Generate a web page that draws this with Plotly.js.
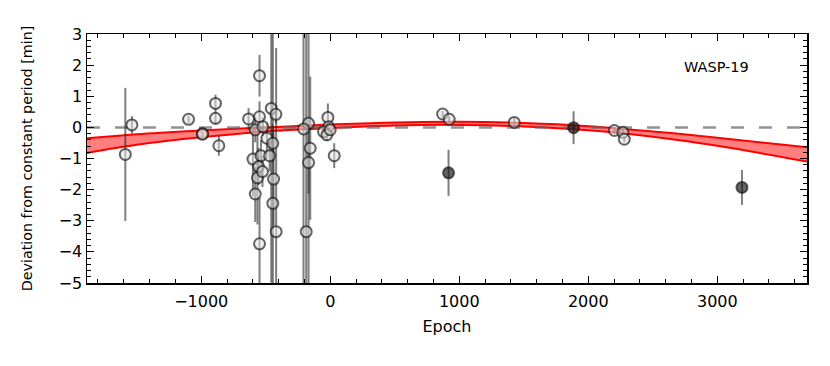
<!DOCTYPE html>
<html>
<head>
<meta charset="utf-8">
<script src="https://cdn.plot.ly/plotly-3.0.1.min.js"></script>
<style>
  html, body { margin: 0; padding: 0; background: #fff; }
  #chart { width: 830px; height: 366px; }
</style>
</head>
<body>
<div id="chart"></div>
<script>
// open markers: epoch, O-C [min], error
const openEpoch = [-1588, -1537, -1098, -990, -990, -889, -889, -863, -633, -548, -548, -457, -421,
    -581, -522, -491, -445, -599, -537, -470, -556, -564, -525, -439, -581, -445, -419, -548,
    -186, -168, -207, -155, -168, -18, -13, -52, -26, 0, 31, 871, 922, 1426, 2202, 2268, 2279];
const openDev = [-0.87, 0.08, 0.26, -0.20, -0.22, 0.77, 0.29, -0.59, 0.27, 1.66, 0.34, 0.61, 0.42,
    -0.08, 0.02, -0.35, -0.51, -1.02, -0.91, -0.91, -1.26, -1.62, -1.42, -1.66, -2.14, -2.44, -3.35, -3.74,
    -3.35, 0.13, -0.05, -0.67, -1.13, 0.32, 0.02, -0.14, -0.24, -0.08, -0.91, 0.43, 0.26, 0.16, -0.10, -0.16, -0.38];
const openErr = [2.14, 0.28, 0.12, 0.1, 0.1, 0.28, 0.2, 0.32, 0.35, 0.67, 0.5, 5.6, 0.3,
    0.4, 0.3, 0.5, 0.6, 1.2, 0.5, 0.5, 0.6, 1.5, 0.5, 1.5, 0.9, 5.6, 5.9, 1.5,
    7.0, 6.0, 5.5, 2.3, 1.0, 0.45, 0.2, 0.2, 0.2, 0.2, 0.4, 0.1, 0.1, 0.15, 0.1, 0.1, 0.1];

// filled markers
const fullEpoch = [917, 1886, 3191];
const fullDev = [-1.46, -0.01, -1.93];
const fullErr = [0.74, 0.53, 0.56];

// quadratic ephemeris band
const bandEpoch = [-1885, -1500, -1000, -500, 0, 500, 1000, 1500, 2000, 2500, 3000, 3695];
const bandUpper = [-0.35, -0.22, -0.10, 0.00, 0.09, 0.16, 0.18, 0.14, 0.04, -0.13, -0.33, -0.64];
const bandLower = [-0.82, -0.56, -0.32, -0.13, -0.02, 0.06, 0.08, 0.03, -0.09, -0.30, -0.59, -1.10];

const xRange = [-1885, 3695];
const yRange = [-5, 3];
const zeroDev = [0, 0];

const FAMILY = 'DejaVu Sans, sans-serif';
const tickFont = { family: FAMILY, size: 16, color: '#000' };

const traces = [
    {
        x: bandEpoch, y: bandLower, type: 'scatter', mode: 'lines',
        line: { color: '#ff0000', width: 2, shape: 'spline' }, hoverinfo: 'skip'
    },
    {
        x: bandEpoch, y: bandUpper, type: 'scatter', mode: 'lines',
        line: { color: '#ff0000', width: 2, shape: 'spline' },
        fill: 'tonexty', fillcolor: 'rgba(255,0,0,0.5)', hoverinfo: 'skip'
    },
    {
        x: xRange, y: zeroDev, type: 'scatter', mode: 'lines',
        line: { color: 'rgba(100,100,100,0.7)', width: 2.5, dash: '13px,15px' }, hoverinfo: 'skip'
    },
    {
        x: openEpoch, y: openDev, type: 'scatter', mode: 'markers',
        error_y: { type: 'data', array: openErr, visible: true, color: 'rgba(40,40,40,0.6)', thickness: 2, width: 0 },
        marker: { size: 11, color: 'rgba(225,225,225,0.55)', line: { color: 'rgba(20,20,20,0.65)', width: 2 } }
    },
    {
        x: fullEpoch, y: fullDev, type: 'scatter', mode: 'markers',
        error_y: { type: 'data', array: fullErr, visible: true, color: 'rgba(40,40,40,0.6)', thickness: 2, width: 0 },
        marker: { size: 11, color: 'rgba(20,20,20,0.65)', line: { color: 'rgba(20,20,20,0.65)', width: 2 } }
    }
];

const axisCommon = {
    showgrid: false, zeroline: false,
    showline: true, linecolor: '#000', linewidth: 1.5, mirror: 'allticks',
    ticks: 'inside', ticklen: 7, tickwidth: 1, tickcolor: '#000',
    tickfont: tickFont
};

const layout = {
    width: 830, height: 366,
    paper_bgcolor: '#fff', plot_bgcolor: '#fff',
    margin: { l: 87, r: 23, t: 34, b: 83 },
    showlegend: false,
    font: tickFont,
    xaxis: Object.assign({}, axisCommon, {
        range: xRange, tick0: 0, dtick: 1000, ticklabelstandoff: 3,
        minor: { ticks: 'inside', dtick: 200, ticklen: 4, tickcolor: '#000', tickwidth: 1 },
        title: { text: 'Epoch', font: { family: FAMILY, size: 16, color: '#000' }, standoff: 11 }
    }),
    yaxis: Object.assign({}, axisCommon, {
        range: yRange, tick0: 0, dtick: 1,
        minor: { ticks: 'inside', dtick: 0.2, ticklen: 4, tickcolor: '#000', tickwidth: 1 },
        title: { text: 'Deviation from constant period [min]', font: { family: FAMILY, size: 14.3, color: '#000' }, standoff: 22 }
    }),
    annotations: [{
        text: 'WASP-19', xref: 'paper', yref: 'paper', x: 0.922, y: 0.867,
        xanchor: 'right', yanchor: 'middle', showarrow: false,
        font: { family: FAMILY, size: 14.5, color: '#000' }
    }]
};

Plotly.newPlot('chart', traces, layout, { displayModeBar: false, staticPlot: true });
</script>
</body>
</html>
